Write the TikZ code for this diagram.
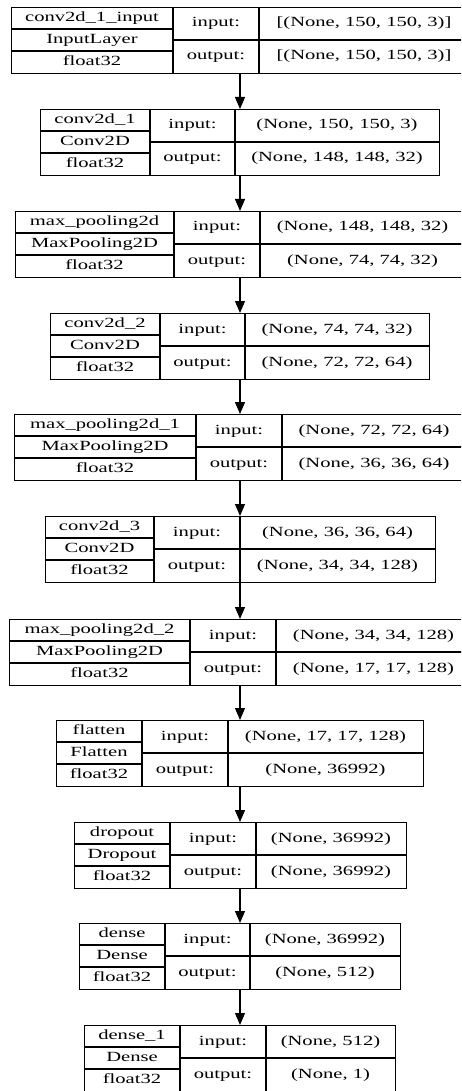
\documentclass[tikz,border=0pt]{standalone}
\usepackage{fontspec}
\setmainfont{Liberation Serif}[FakeStretch=1.47]
\usetikzlibrary{arrows.meta}

\tikzset{
  layerbox/.style={draw, line width=1.2pt, inner sep=0pt, anchor=north west},
  cellline/.style={line width=1.2pt},
  celltext/.style={inner sep=0pt, text height=10pt, text depth=3pt,
    font=\fontsize{14}{14}\selectfont},
  flowarrow/.style={line width=1.2pt, -{Triangle[length=12pt,width=10pt]}}
}

\begin{document}
\begin{tikzpicture}[x=1pt, y=-1pt]
    % Page frame, the right and bottom edges cut the wider boxes
    \useasboundingbox (0,0) rectangle (461,1091);
    \clip (0,0) rectangle (461,1091);
    \coordinate (axis) at (240,0);

    % One box per layer: top, left, two dividers, right, name, class, shapes
    \foreach \t/\l/\a/\b/\r/\lab/\cls/\inp/\outp [count=\i] in {
        7/11/173/259/469/{conv2d\_1\_input}/InputLayer/{[(None, 150, 150, 3)]}/{[(None, 150, 150, 3)]},
        109/40/150/235/439/{conv2d\_1}/Conv2D/{(None, 150, 150, 3)}/{(None, 148, 148, 32)},
        211/15/174/260/465/{max\_pooling2d}/MaxPooling2D/{(None, 148, 148, 32)}/{(None, 74, 74, 32)},
        313/50/160/245/429/{conv2d\_2}/Conv2D/{(None, 74, 74, 32)}/{(None, 72, 72, 64)},
        414/14/196/282/466/{max\_pooling2d\_1}/MaxPooling2D/{(None, 72, 72, 64)}/{(None, 36, 36, 64)},
        516/45/154/240/435/{conv2d\_3}/Conv2D/{(None, 36, 36, 64)}/{(None, 34, 34, 128)},
        619/9/190/276/471/{max\_pooling2d\_2}/MaxPooling2D/{(None, 34, 34, 128)}/{(None, 17, 17, 128)},
        720/56/142/228/423/flatten/Flatten/{(None, 17, 17, 128)}/{(None, 36992)},
        822/74/170/256/406/dropout/Dropout/{(None, 36992)}/{(None, 36992)},
        923/79/165/250/400/dense/Dense/{(None, 36992)}/{(None, 512)},
        1025/84/180/266/395/{dense\_1}/Dense/{(None, 512)}/{(None, 1)}} {
        \node[layerbox, minimum width=\r pt-\l pt, minimum height=66pt] (b\i) at (\l,\t) {};
        \draw[cellline] (\a,\t) -- (\a,{\t+66});
        \draw[cellline] (\b,\t) -- (\b,{\t+66});
        \draw[cellline] (\l,{\t+22}) -- (\a,{\t+22});
        \draw[cellline] (\l,{\t+44}) -- (\a,{\t+44});
        \draw[cellline] (\a,{\t+33}) -- (\r,{\t+33});
        \node[celltext] (b\i-name) at ({(\l+\a)/2},{\t+11}) {\lab};
        \node[celltext] (b\i-class) at ({(\l+\a)/2},{\t+33}) {\cls};
        \node[celltext] (b\i-type) at ({(\l+\a)/2},{\t+55}) {float32};
        \node[celltext] (b\i-inlbl) at ({(\a+\b)/2},{\t+16.5}) {input:};
        \node[celltext] (b\i-outlbl) at ({(\a+\b)/2},{\t+49.5}) {output:};
        \node[celltext] (b\i-in) at ({(\b+\r)/2},{\t+16.5}) {\inp};
        \node[celltext] (b\i-out) at ({(\b+\r)/2},{\t+49.5}) {\outp};
    }

    % Arrows from each layer down to the next
    \foreach \i [evaluate=\i as \j using int(\i+1)] in {1,...,10}
        \draw[flowarrow] (b\i.south -| axis) -- (b\j.north -| axis);
\end{tikzpicture}
\end{document}
